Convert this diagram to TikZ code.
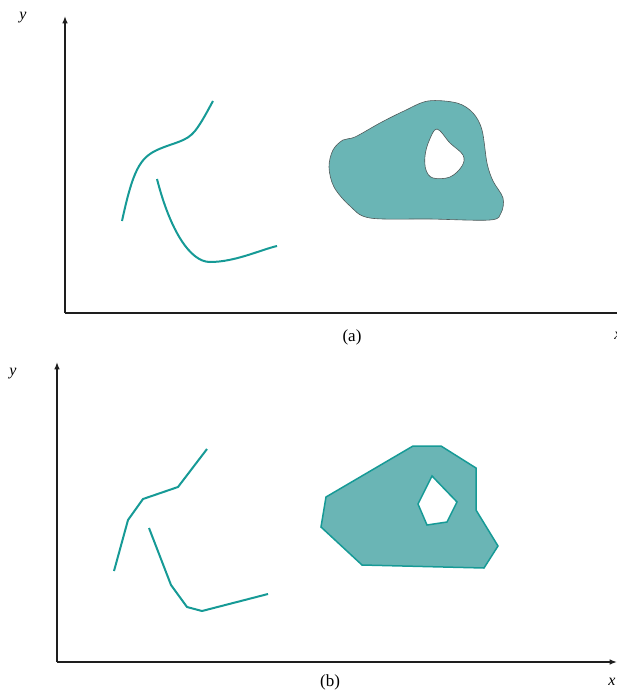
\documentclass[tikz,border=0pt]{standalone}
\usepackage{fontspec}
\setmainfont{Liberation Serif}
\usetikzlibrary{positioning,arrows.meta}
\definecolor{TealLine}{RGB}{22,154,150}
\definecolor{TealFill}{RGB}{106,181,181}
\definecolor{AxisGrey}{RGB}{30,30,30}
\definecolor{RimGrey}{RGB}{80,90,90}
\tikzset{
  axis/.style={-{Latex[length=2.6mm,width=2mm]},line width=1.8pt,draw=AxisGrey},
  curve/.style={line width=2pt,draw=TealLine,line join=round},
  blob/.style={fill=TealFill,draw=RimGrey,line width=0.6pt,even odd rule},
  polyblob/.style={fill=TealFill,draw=TealLine,line width=1.5pt,even odd rule,line join=miter},
  axlabel/.style={font=\fontsize{16}{18}\selectfont\itshape,inner sep=0pt},
  caption/.style={font=\fontsize{17}{19}\selectfont,inner sep=0pt}
}

\begin{document}
\begin{tikzpicture}[x=1pt,y=-1pt]
  \useasboundingbox (0,0) rectangle (617,693);
  \clip (0,0) rectangle (617,693);

  % (a) smooth curves and region
  \coordinate (oA) at (65,313);
  \coordinate (yA) at (65,16);
  \coordinate (xA) at (630,313);
  \draw[axis] (oA) -- (yA);
  \draw[axis] (oA) -- (xA);
  \node[axlabel] (ylabA) at (23,18) {y};
  \node[axlabel] (xlabA) at (618,336) {x};
  \node[caption] (capA) at (352,337) {(a)};

  \draw[curve] (122,221) .. controls (133,170) and (140,158) .. (157,150)
    .. controls (175,142) and (186,142) .. (195,131)
    .. controls (202,122) and (208,110) .. (213,101);
  \draw[curve] (157,179) .. controls (170,230) and (190,262) .. (210,262)
    .. controls (235,262) and (260,250) .. (277,246);

  \draw[blob] plot[smooth cycle,tension=0.55] coordinates {
    (428,101) (457,103) (473,113) (482,130) (487,163) (493,181)
    (503,198) (501,213) (490,220) (430,219) (370,218) (350,206)
    (334,187) (329,167) (333,150) (343,140) (355,137) (380,123) (404,111)}
    plot[smooth cycle,tension=0.6] coordinates {
    (437,129) (450,143) (463,155) (462,166) (450,177) (433,178)
    (426,170) (425,156) (429,141)};

  % (b) polygonal approximations
  \coordinate (oB) at (57,662);
  \coordinate (yB) at (57,362);
  \coordinate (xB) at (617,662);
  \draw[axis] (oB) -- (yB);
  \draw[axis] (oB) -- (xB);
  \node[axlabel] (ylabB) at (13,374) {y};
  \node[axlabel] (xlabB) at (612,682) {x};
  \node[caption] (capB) at (330,682) {(b)};

  \draw[curve] (114,571) -- (128,520) -- (143,499) -- (178,487) -- (207,449);
  \draw[curve] (149,528) -- (171,585) -- (187,607) -- (202,611) -- (268,594);

  \draw[polyblob] (413,446) -- (441,446) -- (476,468) -- (476,510) -- (498,546)
    -- (484,568) -- (362,565) -- (321,527) -- (326,497) -- cycle
    (432,476) -- (457,502) -- (447,522) -- (427,525) -- (418,504) -- cycle;
\end{tikzpicture}
\end{document}
